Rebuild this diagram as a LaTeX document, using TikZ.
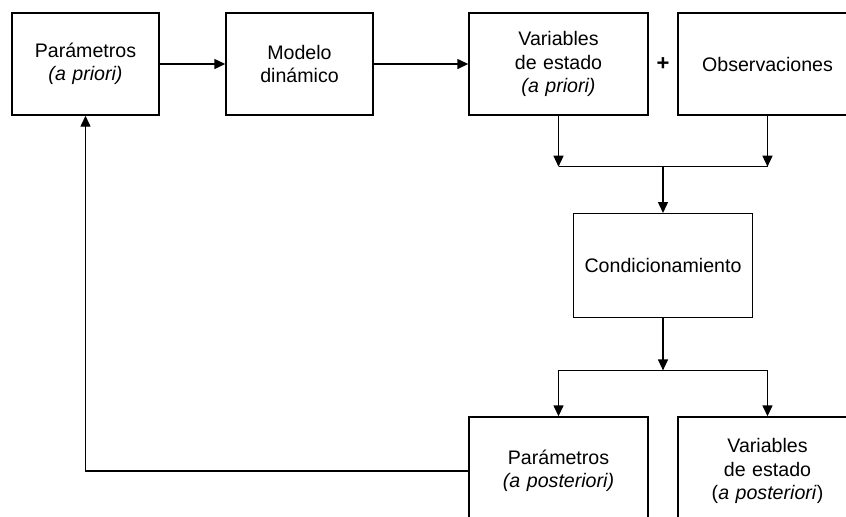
\documentclass[tikz,border=0pt]{standalone}
\usepackage{fontspec}
\setmainfont{Liberation Sans}
\usetikzlibrary{arrows.meta,positioning,calc}

\begin{document}
\begin{tikzpicture}[node distance = 107pt, auto, line width=0.7pt]
% Define block styles
\tikzstyle{block} = [rectangle, draw, text width=73.5pt, text centered,
    minimum height=51pt, inner sep=0pt, font=\fontsize{9.8}{11.75}\selectfont]
\tikzstyle{wide} = [block, text width=89.5pt]
\tikzstyle{line} = [draw, -{Triangle[length=5.5pt,width=5pt]}]

    % Fix the page
    \useasboundingbox (0,0) rectangle (423pt,-258pt);
    \clip (0,0) rectangle (423pt,-258pt);

    % Place nodes
    \node [block] (ppri) at (42.75pt,-32pt) {Parámetros\\\textit{(a priori)}};
    \node [block, right of=ppri] (model) {Modelo\\dinámico};
    \node [wide, right of=model, node distance=129.5pt] (vpri) {Variables\\de estado\\\textit{(a priori)}};
    \node [wide, right of=vpri, node distance=104.5pt] (obs) {Observaciones};
    \node [font=\bfseries\fontsize{11}{13}\selectfont, inner sep=0pt] (plus) at ($(vpri.east)!0.5!(obs.west)$) {+};
    \coordinate (join) at ($(vpri.south)!0.5!(obs.south)+(0,-25.5pt)$);
    \node [wide, below of=join, node distance=49.5pt, minimum height=52pt] (cond) {Condicionamiento};
    \coordinate (split) at ($(cond.south)+(0,-26pt)$);
    \node [wide, below of=vpri, node distance=203.5pt, minimum height=54pt] (ppost) {Parámetros\\\textit{(a posteriori)}};
    \node [wide, below of=obs, node distance=203.5pt, minimum height=54pt] (vpost) {Variables\\de estado\\(\textit{a posteriori})};
    % Draw edges
    \path [line] (ppri) -- (model);
    \path [line] (model) -- (vpri);
    \path [line] (vpri) -- (vpri |- join);
    \path [line] (obs) -- (obs |- join);
    \path [draw] (vpri |- join) -- (obs |- join);
    \path [line] (join) -- (cond);
    \path [line] (cond) -- (split);
    \path [draw] (split -| ppost) -- (split -| vpost);
    \path [line] (split -| ppost) -- (ppost);
    \path [line] (split -| vpost) -- (vpost);
    \path [line] (ppost) -| (ppri);
\end{tikzpicture}
\end{document}
